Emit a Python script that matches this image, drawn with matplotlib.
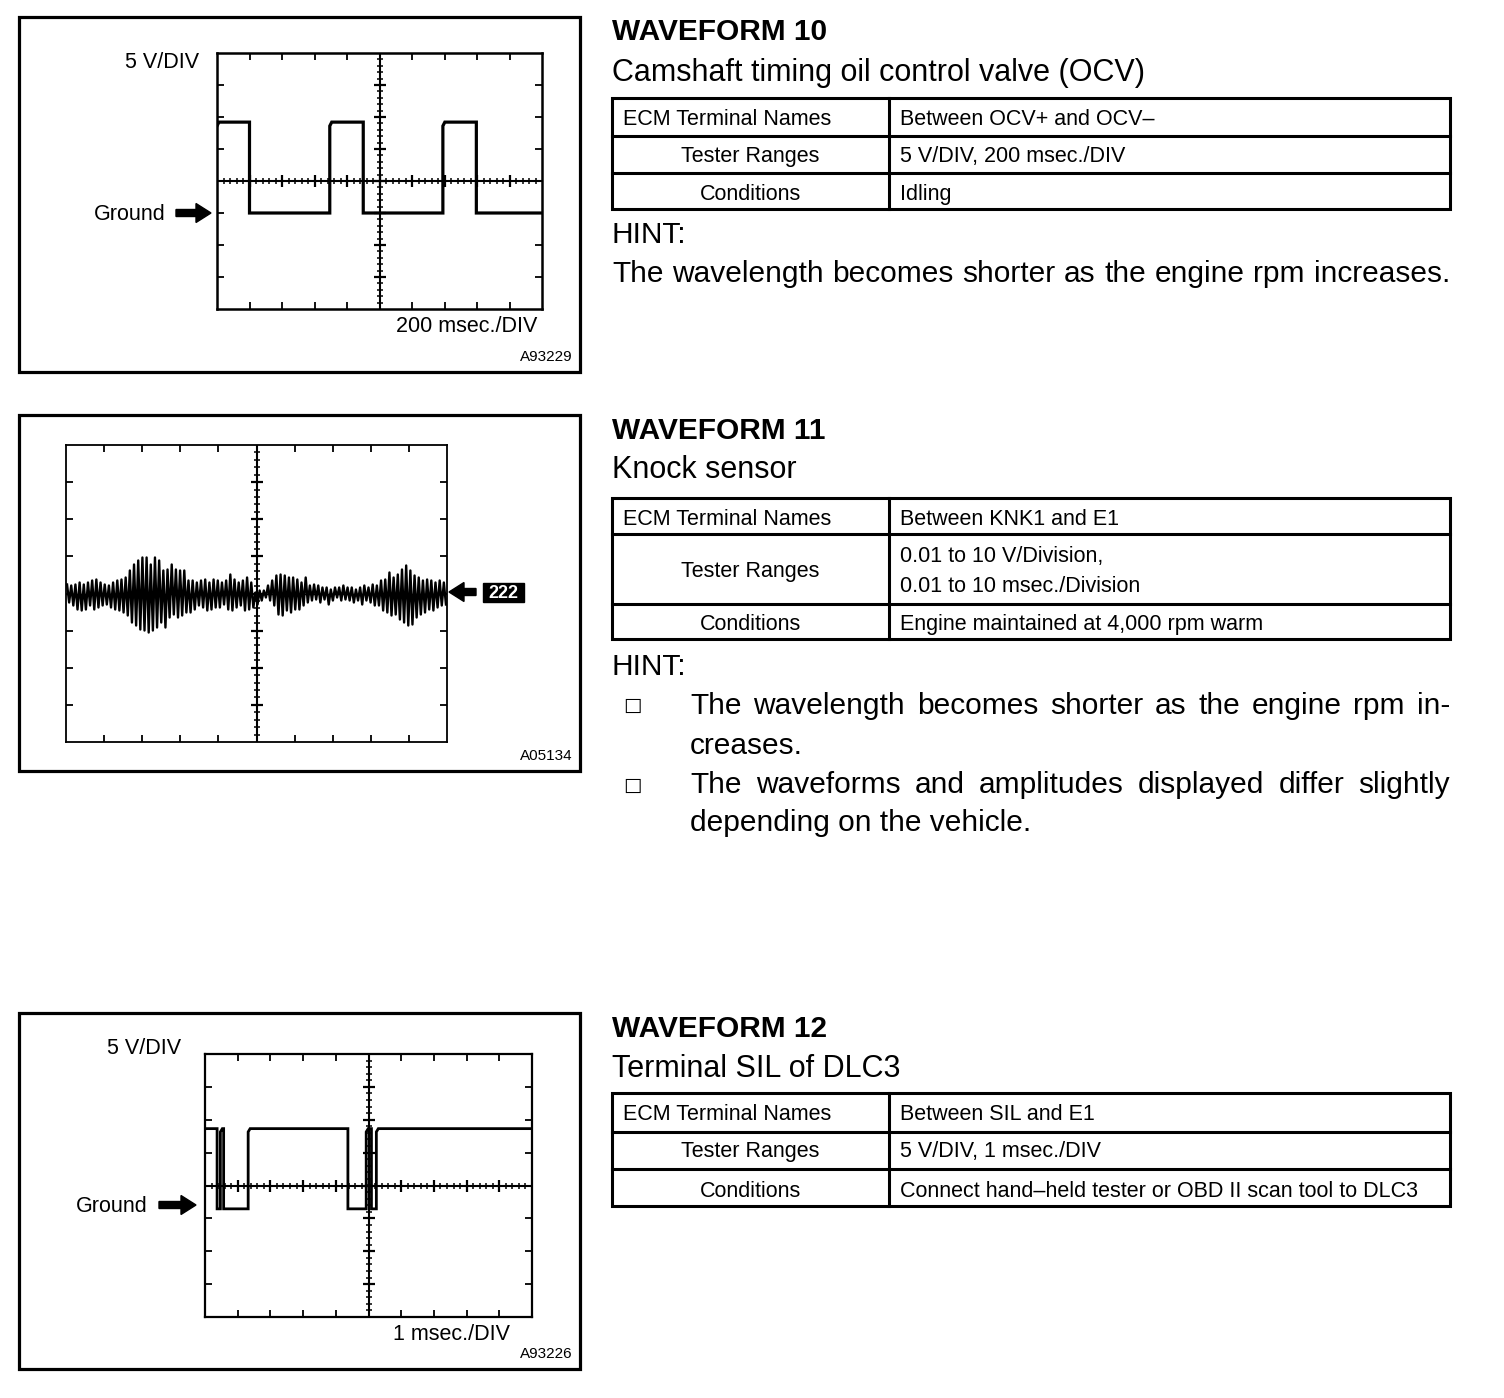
import numpy as np
import matplotlib
matplotlib.use("Agg")
import matplotlib.pyplot as plt
import matplotlib.patches as mpatches

plt.rcParams['font.family'] = ['Liberation Sans', 'DejaVu Sans']

W, H = 1504, 1398

# ---------------- data ----------------
# WAVEFORM 10 - OCV, 200 msec/DIV, 5 V/DIV
ocv_edges_ms = [0, 200, 694, 900, 1390, 1596, 2000]
ocv_levels_v = [14.2, 0, 14.2, 0, 14.2, 0]

# WAVEFORM 12 - SIL, 1 msec/DIV, 5 V/DIV
sil_edges_ms = [0, 0.37, 0.47, 0.57, 1.32, 4.37, 4.93, 5.09, 5.24, 10]
sil_levels_v = [12.2, 0, 12.2, 0, 12.2, 0, 12.2, 0, 12.2]

# WAVEFORM 11 - knock sensor, peak of each cycle above / below the baseline
# (read in screen grid pixels, 37.1 px = 1 division)
knock_up = [9, 8, 9, 11, 9, 11, 13, 14, 11, 9, 8, 11, 13, 14, 16, 23, 29, 33, 36, 36, 29, 36, 33,
            23, 24, 29, 24, 23, 23, 13, 13, 11, 13, 14, 11, 14, 13, 11, 13, 19, 14, 11, 13, 16, 11,
            1, 3, 3, 8, 13, 18, 19, 18, 16, 16, 14, 11, 16, 8, 9, 8, 6, 6, 4, 6, 6, 8, 6,
            6, 4, 6, 8, 6, 9, 8, 13, 14, 21, 16, 19, 24, 28, 23, 18, 16, 13, 14, 13, 11, 13, 11]
knock_down = [9, 12, 16, 17, 16, 12, 16, 14, 12, 11, 14, 16, 17, 19, 22, 29, 32, 36, 37, 39, 37, 34, 29,
              34, 24, 21, 24, 22, 19, 19, 16, 12, 14, 17, 16, 14, 14, 11, 16, 17, 14, 12, 17, 16, 14,
              11, 7, 4, 7, 12, 21, 22, 17, 19, 16, 16, 12, 9, 7, 6, 9, 6, 11, 7, 4, 7, 6, 7,
              9, 7, 11, 7, 9, 12, 12, 17, 19, 22, 21, 26, 29, 32, 31, 24, 21, 19, 16, 17, 14, 12, 11]

# ---------------- text of the tables ----------------
titles = ["WAVEFORM 10", "WAVEFORM 11", "WAVEFORM 12"]
subtitles = ["Camshaft timing oil control valve (OCV)", "Knock sensor", "Terminal SIL of DLC3"]
row_names = ["ECM Terminal Names", "Tester Ranges", "Conditions"]
terminals = ["Between OCV+ and OCV\u2013", "Between KNK1 and E1", "Between SIL and E1"]
ranges = [["5 V/DIV, 200 msec./DIV"],
          ["0.01 to 10 V/Division,", "0.01 to 10 msec./Division"],
          ["5 V/DIV, 1 msec./DIV"]]
conditions = ["Idling", "Engine maintained at 4,000 rpm warm",
              "Connect hand\u2013held tester or OBD II scan tool to DLC3"]

fig = plt.figure(figsize=(W / 100, H / 100), dpi=100)
fig.patch.set_facecolor('white')
page = fig.add_axes([0, 0, 1, 1])
page.set_xlim(0, W)
page.set_ylim(H, 0)
page.set_axis_off()
renderer = fig.canvas.get_renderer()


def step_trace(edges, levels, rw, rh, round_start=False):
    xs, ys = [], []
    for i, lv in enumerate(levels):
        t0, t1 = edges[i], edges[i + 1]
        if i == 0:
            if round_start:
                xs += [t0, t0 + rw]
                ys += [lv - rh, lv]
            else:
                xs.append(t0)
                ys.append(lv)
        elif lv > levels[i - 1]:
            xs += [t0, t0 + rw]
            ys += [lv - rh, lv]
        else:
            xs.append(t0)
            ys.append(lv)
        xs.append(t1)
        ys.append(lv)
    return xs, ys


def scope(l, t, r, b, spine_lw=1.7, hline=True):
    ax = fig.add_axes([l / W, 1 - b / H, (r - l) / W, (b - t) / H])
    ax.set_xlim(0, 10)
    ax.set_ylim(-4, 4)
    ax.set_xticks(np.arange(1, 10))
    ax.set_yticks(np.arange(-3, 4))
    ax.tick_params(direction='in', length=5, width=1.3, top=True, right=True,
                   labelleft=False, labelbottom=False)
    for s in ax.spines.values():
        s.set_linewidth(spine_lw)
    minor = np.arange(0.2, 10, 0.2)
    minor_y = np.arange(-3.8, 4, 0.2)
    ax.axvline(5, color='k', lw=1.5)
    ax.plot(np.full(minor_y.size, 5), minor_y, ls='none', marker='_', ms=5, mew=1.1, color='k')
    ax.plot(np.full(7, 5), np.arange(-3, 4), ls='none', marker='_', ms=9, mew=1.6, color='k')
    if hline:
        ax.axhline(0, color='k', lw=1.5)
        ax.plot(minor, np.zeros(minor.size), ls='none', marker='|', ms=5, mew=1.1, color='k')
        ax.plot(np.arange(1, 10), np.zeros(9), ls='none', marker='|', ms=9, mew=1.6, color='k')
    return ax


def justified(x0, x1, y, line, size):
    words = line.split()
    objs = [page.text(0, y, w, fontsize=size, va='baseline', ha='left') for w in words]
    widths = [o.get_window_extent(renderer).width for o in objs]
    gap = (x1 - x0 - sum(widths)) / (len(words) - 1)
    x = x0
    for o, w in zip(objs, widths):
        o.set_x(x)
        x += w + gap


def ground_arrow(x0, x1, y):
    page.add_patch(mpatches.FancyArrow(x0, y, x1 - x0, 0, width=7, head_width=19, head_length=15,
                                       length_includes_head=True, color='black'))


# panel frames
for top, bot in [(17, 372), (415, 771), (1013, 1369)]:
    page.add_patch(mpatches.Rectangle((19, top), 561, bot - top, fill=False, lw=2.3, ec='black'))

# ---------- WAVEFORM 10 scope ----------
ax1 = scope(217, 53, 542, 309, spine_lw=1.8)
gnd1 = -1.0
xs, ys = step_trace(ocv_edges_ms, ocv_levels_v, 12, 0.6, round_start=True)
ax1.plot(np.array(xs) / 200, np.array(ys) / 5 + gnd1, color='k', lw=2.3, solid_joinstyle='miter')
page.text(199, 62, "5 V/DIV", fontsize=15.5, ha='right', va='center')
page.text(166, 214, "Ground", fontsize=15.5, ha='right', va='center')
ground_arrow(176, 211, 213)
page.text(537, 326, "200 msec./DIV", fontsize=15.5, ha='right', va='center')
page.text(573, 357, "A93229", fontsize=11, ha='right', va='center')

# ---------- WAVEFORM 11 scope ----------
ax2 = scope(66, 445, 447, 742, spine_lw=1.3, hline=False)
ax2.axhline(0, color='k', lw=1.0)
n = len(knock_up)
step = 10 / n
kx, ky = [], []
for i in range(n):
    kx += [i * step + step * 0.25, i * step + step * 0.75]
    ky += [knock_up[i] / 37.1, -knock_down[i] / 37.1]
ax2.plot(kx, ky, color='k', lw=1.7)
ground_arrow(476, 449, 592)
page.add_patch(mpatches.Rectangle((483, 583), 41, 19, color='black'))
page.text(503.5, 593, "222", fontsize=13, color='white', fontweight='bold', ha='center', va='center')
page.text(573, 756, "A05134", fontsize=11, ha='right', va='center')

# ---------- WAVEFORM 12 scope ----------
ax3 = scope(205, 1054, 532, 1317, spine_lw=1.6)
gnd3 = -0.71
xs, ys = step_trace(sil_edges_ms, sil_levels_v, 0.06, 0.5)
ax3.plot(xs, np.array(ys) / 5 + gnd3, color='k', lw=2.0, solid_joinstyle='miter')
page.text(181, 1048, "5 V/DIV", fontsize=15.5, ha='right', va='center')
page.text(148, 1207, "Ground", fontsize=15.5, ha='right', va='center')
ground_arrow(159, 196, 1205)
page.text(510, 1334, "1 msec./DIV", fontsize=15.5, ha='right', va='center')
page.text(573, 1354, "A93226", fontsize=11, ha='right', va='center')

# ---------- right-hand text and tables ----------
title_base = [40, 439, 1037]
sub_base = [81, 478, 1077]
table_rows = [[98, 136, 173, 209], [498, 534, 604, 639], [1093, 1132, 1169, 1206]]
row_base = [[125, 162, 200], [525, None, 630], [1120, 1157, 1197]]
TL, TR, TD = 612, 1450, 889

for k in range(3):
    page.text(TL, title_base[k], titles[k], fontsize=21.5, fontweight='bold', va='baseline')
    page.text(TL, sub_base[k], subtitles[k], fontsize=22, va='baseline')
    rows = table_rows[k]
    page.add_patch(mpatches.Rectangle((TL, rows[0]), TR - TL, rows[3] - rows[0],
                                      fill=False, lw=2.2, ec='black'))
    for yy in rows[1:3]:
        page.plot([TL, TR], [yy, yy], color='k', lw=2.2)
    page.plot([TD, TD], [rows[0], rows[3]], color='k', lw=2.2)
    # left column
    page.text(623, row_base[k][0], row_names[0], fontsize=15.5, va='baseline')
    mid = (TL + TD) / 2
    if k == 1:
        page.text(mid, 577, row_names[1], fontsize=15.5, va='baseline', ha='center')
        page.text(900, 562, ranges[1][0], fontsize=15.5, va='baseline')
        page.text(900, 592, ranges[1][1], fontsize=15.5, va='baseline')
    else:
        page.text(mid, row_base[k][1], row_names[1], fontsize=15.5, va='baseline', ha='center')
        page.text(900, row_base[k][1], ranges[k][0], fontsize=15.5, va='baseline')
    page.text(mid, row_base[k][2], row_names[2], fontsize=15.5, va='baseline', ha='center')
    page.text(900, row_base[k][0], terminals[k], fontsize=15.5, va='baseline')
    page.text(900, row_base[k][2], conditions[k], fontsize=15.5, va='baseline')

# hints
page.text(TL, 243, "HINT:", fontsize=21.5, va='baseline')
justified(TL, 1450, 282, "The wavelength becomes shorter as the engine rpm increases.", 21.5)

page.text(TL, 675, "HINT:", fontsize=21.5, va='baseline')
for yb in (705, 785):
    page.text(632, yb, "\u25a1", fontsize=14, ha='center', va='center', family=['DejaVu Sans'])
justified(690, 1450, 714, "The wavelength becomes shorter as the engine rpm in-", 21.5)
page.text(690, 754, "creases.", fontsize=21.5, va='baseline')
justified(690, 1450, 793, "The waveforms and amplitudes displayed differ slightly", 21.5)
page.text(690, 831, "depending on the vehicle.", fontsize=21.5, va='baseline')

fig.savefig("out.png", dpi=100, facecolor='white')
